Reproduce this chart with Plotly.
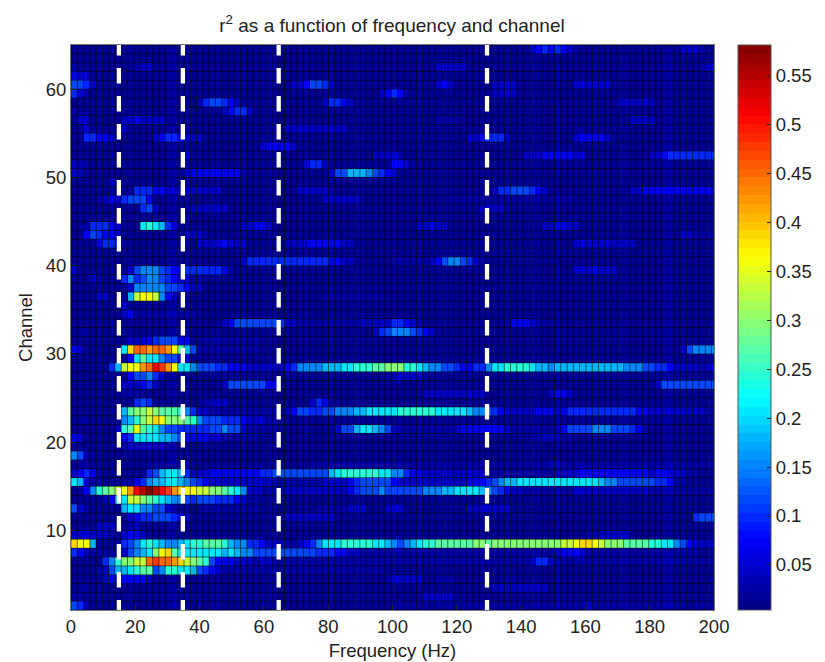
import plotly.graph_objects as go

LEVELS = {'0': .005, '1': .014, '2': .03, '3': .048, '4': .07, '5': .095, '6': .12, '7': .15,
          '8': .18, '9': .21, 'a': .24, 'b': .27, 'c': .30, 'd': .33, 'e': .36, 'f': .39,
          'g': .42, 'h': .45, 'i': .48, 'j': .51, 'k': .55, 'l': .58}

CH01 = "6521111111 1111112211 1122111111 1111111111 1111111111 1222212122 2222222222 2222222222 2232222222 2222222212 222"
CH02 = "2211111111 1111111111 1111111111 1111111111 1111111111 1111113333 3111111111 1111111111 1111111111 1111111111 111"
CH03 = "1111111111 1111111111 1111111111 1111111111 1111111111 1111111111 1111111333 3333331111 1111111111 1111111111 111"
CH04 = "1111134344 4431111111 1111111111 1111111111 1111111111 2333331122 2111111112 2111111111 1111111111 1111111111 111"
CH05 = "1111236889 abb67aa998 6543222222 2222222222 2222222222 1111111111 1111111111 1111111111 1111111111 1111111111 111"
CH06 = "1111157acc ddhihhgfdc ba64443332 3322222222 2222222222 2222222222 2222222222 2223553222 2222222222 2222222222 222"
CH07 = "5422222336 789cefb999 9999898776 6666666665 5544332222 2222222222 2222222222 2222222344 4322222222 2222222222 111"
CH08 = "fee8111256 79a987789a abbba87755 4333223457 999aaaaa99 876789aabb bbbbccbccc ccccccccdd effedcccbb bbaa997643 333"
CH09 = "3333332134 4311111111 1111111111 1111111111 1111111111 1111111111 1111111111 1111111111 1122333331 1111111111 111"
CH10 = "1111333112 3111111111 1111111111 1111111111 1111111111 1111111111 1111111111 1111111111 1111111111 1111111111 111"
CH11 = "1111111113 4556665431 1111111111 1112333333 3311111111 1111111111 1111111111 1111111111 1111111111 1111111115 666"
CH12 = "6311111189 9776631111 2222222222 1111111112 2222333111 3331111111 1113333333 1111111111 1111111111 1111111111 111"
CH13 = "111113489d dcba987765 6665554322 1111111111 1111111111 1111111111 1111111111 1111111111 1111111111 1111111111 111"
CH14 = "1247abcdeg jklkjigfee ddccba9733 2223333333 3333456667 6666667778 8999987654 3322222222 3333333333 3322222222 222"
CH15 = "9832211122 4578899876 5433333333 3322222222 3333456666 6433333333 3333445678 8999999999 9999877666 6665542211 111"
CH16 = "3454211111 1156899853 3344444444 5566666666 689aaaaaa9 9775443333 3333332222 2222222233 3444444444 4434433322 111"
CH17 = "1111111111 1122222222 1111111111 1111111122 2222222222 2222222222 2222222222 2222223322 2222222222 2222222222 222"
CH18 = "7622111111 1111111111 1111111111 1111111111 1111111111 1111111111 1111111111 1111111111 1111111111 1111111111 111"
CH19 = "1111111123 3333321111 1111111111 1111111111 1111111111 1111111111 1111111111 1111111111 1111111111 1111111111 111"
CH20 = "4311111145 9999887644 4433222222 1111111111 1111111111 1111111111 1111111111 1112233222 1111111111 1111111111 111"
CH21 = "11111113ab eba9766555 5566766322 2222111211 1136689987 6322222222 2344444443 2222222246 6667776665 4211111111 111"
CH22 = "1111111178 acdfecccba 7666555433 3222111111 1111111111 1111111111 1111111111 1111111111 1111111111 1111111111 111"
CH23 = "111111118b ccdcbbba75 3322222222 2222346655 6677788999 99aaaaaa99 9998776543 3333444345 5555555555 4433333333 322"
CH24 = "1111111111 5651111111 2233311111 1111111135 4111111111 1111111111 1111111111 1111111111 1111111111 1111111111 111"
CH25 = "1111111122 2111111111 1111111111 1111111111 1111111111 1111113333 3333331111 1111113443 1111111111 1111111111 111"
CH26 = "1111111133 3453111111 1111366666 6441111111 1111111111 1111111111 1111111111 1111111111 1111111111 1113666666 666"
CH27 = "1111111114 6675311111 1111111111 1111111111 1111111111 2233332111 1111111111 1111111111 1111111111 1111111111 111"
CH28 = "11111158de eghjige997 6665544433 3333457777 88899aaabb cccaa98776 654455799a aaa9887888 8888888877 7665543333 234"
CH29 = "1111111114 9b99766431 1111111111 1111111111 1111111111 1111111111 1111111111 1111111111 1111111111 1111111111 111"
CH30 = "431111119f hhghhgeb86 2222222222 1111111111 1111111111 1111111111 1111111111 1111111111 1111111111 1111111367 777"
CH31 = "1111111113 3345666442 2222222222 1111111111 1111111111 1111111111 1111111111 1111111111 1111111111 1111111111 111"
CH32 = "1111111111 1111111111 1111111111 1111111111 1111111135 6777654311 1111111111 1111111111 1111111111 1111111111 111"
CH33 = "1111111111 1111111111 1111346666 6665332222 2222223333 3554321111 1111111111 4443222111 1111111111 1111111111 111"
CH34 = "1111111134 2222222222 1111111111 1111111111 1111111111 1111111111 1111111111 1111111111 1111111111 1111111111 111"
CH35 = "1111111131 1111111111 1111111111 1111111111 1111111111 1111111111 1111111111 1111111111 1111111111 1111111111 111"
CH36 = "1111331118 deed742111 1111111111 1111111111 2222222222 1111111111 1111111111 1111111111 1111111111 1111111111 111"
CH37 = "1111111113 7777766543 3111111111 1111111111 1111111111 1111111111 1111111111 1111111111 1111111111 1111111111 111"
CH38 = "1113211157 5677654332 2111111111 1111111111 1111111111 1111111111 1111111111 1111111111 1111111111 1111111111 111"
CH39 = "3111111113 6777654455 5555421111 1111111111 1111111111 1111111111 1111111111 1111111111 3334333111 1111111111 111"
CH40 = "1111111111 1111111111 1111111355 5555555555 5443311111 1222222346 7765321111 1111111111 1111111111 1111111111 111"
CH41 = "1111111111 1111111111 1111111111 1111111111 1111111111 1111111111 1111111111 1111111111 1111111111 1111111111 111"
CH42 = "1111455421 1111111111 3333433311 1111333344 4443311111 1111111111 1111111111 1111111111 3333333333 1111111111 111"
CH43 = "1146544311 1111111133 3211111111 1111111111 1111111111 1111111111 1111111111 1111111111 1111111111 1111111332 222"
CH44 = "1115554311 19a9853111 1111111334 4311111111 1111111111 1111133433 1111111111 1111133443 3111111111 1111111111 111"
CH45 = "1111111111 1111111111 1111111111 1111111111 1111111111 1111111111 1111111111 1111111111 1111111111 1111111111 111"
CH46 = "1111111111 1563111113 3333311111 1111111111 1111111111 1111111111 1111133331 1111111111 1111111111 1111111111 111"
CH47 = "1111234356 6641111111 1111111111 1111111111 3333331111 1111111111 2222222222 2222222222 1111111111 1111111111 111"
CH48 = "1111111111 5554433333 3333111111 1111113333 3211111111 1111111111 1111111355 6665431111 1111111113 3444444444 443"
CH49 = "1111113111 1111111111 1111111111 1111111111 1111111111 1111111111 1111111111 1111111111 1111111111 1111111111 111"
CH50 = "3311111111 1111111134 4444444211 1111111111 1366888765 4311111111 1111111111 1111111111 1111111111 1111111111 111"
CH51 = "3211111111 1111111111 1111111111 1111111355 3111111111 1443211111 1111111111 1111111111 1111111111 1111111111 111"
CH52 = "1111111111 1111111131 1111111111 1111111111 1111111133 3321111111 1111111111 1133344444 3311111111 1133455555 555"
CH53 = "1111111111 1111111111 1111111111 3444431111 1111111111 1111111111 1111111111 1111111111 1111111111 1111111111 111"
CH54 = "1155443111 1113455433 3111111111 1111111111 1111111111 1111111111 1113345553 1111111111 3444431111 1111111111 111"
CH55 = "1131111131 1111111111 1111111111 1111333333 3333111111 1111111111 1111111111 1111111111 1111111111 1111111111 111"
CH56 = "1331111133 4333311111 1111111111 1111111111 1111111111 1111111122 2211111111 1111111111 1111111113 3331111111 111"
CH57 = "2111111111 1111111111 1111345531 1111111111 1111111111 1111111111 1111111111 1111111111 1111111111 1111111111 111"
CH58 = "1111111111 1111111111 3566543111 1111111111 3554311111 1111111111 1111111111 1111111111 1111111333 3331111111 111"
CH59 = "5311111111 1111111111 1111111111 1111111111 1111111113 4542111111 1111111333 3111111111 1111111111 1111111111 111"
CH60 = "6653111111 1111111111 1111111111 1111133466 5311111111 1111111134 3111111333 3111111111 3333331111 1111111111 111"
CH61 = "4331111111 1111111111 1111111111 1111111111 1111111111 1111111111 1111111111 1111111111 1111111111 1111111111 111"
CH62 = "2111111111 2331111111 1111111111 1111111111 1111111111 1111111133 3331111111 1111111111 1111111111 1111111111 234"
CH63 = "1111111111 1111111111 1111111111 1111111111 1111111111 1111111111 1111111111 1111111111 1111111111 1111111111 111"
CH64 = "1111111111 1111111111 1111111111 1111111111 1111111111 1111111111 1111111111 1113454543 2111111111 1111111333 211"

ROWS = [CH01, CH02, CH03, CH04, CH05, CH06, CH07, CH08, CH09, CH10, CH11, CH12, CH13, CH14, CH15, CH16,
        CH17, CH18, CH19, CH20, CH21, CH22, CH23, CH24, CH25, CH26, CH27, CH28, CH29, CH30, CH31, CH32,
        CH33, CH34, CH35, CH36, CH37, CH38, CH39, CH40, CH41, CH42, CH43, CH44, CH45, CH46, CH47, CH48,
        CH49, CH50, CH51, CH52, CH53, CH54, CH55, CH56, CH57, CH58, CH59, CH60, CH61, CH62, CH63, CH64]

N_COLS = 103
FREQ_STEP = 500 / 256
FREQ_EDGES = [i * FREQ_STEP for i in range(N_COLS + 1)]
CHANNEL_EDGES = list(range(1, 66))
BAND_EDGES = [14.9, 34.8, 64.6, 129.4]
X_TICKS = [0, 20, 40, 60, 80, 100, 120, 140, 160, 180, 200]
Y_TICKS = [10, 20, 30, 40, 50, 60]
CBAR_TICKS = [.05, .1, .15, .2, .25, .3, .35, .4, .45, .5, .55]
CBAR_LABELS = ["0.05", "0.1", "0.15", "0.2", "0.25", "0.3", "0.35", "0.4", "0.45", "0.5", "0.55"]
ZMIN, ZMAX = 0.004, 0.581

def to_row(s):
    s = s.replace(" ", "")
    s = (s + "1" * N_COLS)[:N_COLS]
    return [LEVELS[c] for c in s]

Z = [to_row(r) for r in ROWS]

def jet(t):
    def ch(c):
        return max(0.0, min(1.0, 1.5 - abs(4 * t - c)))
    return "rgb(%d,%d,%d)" % (round(255 * ch(3)), round(255 * ch(2)), round(255 * ch(1)))

colorscale = []
for i in range(64):
    col = jet((i + 0.5) / 64)
    colorscale.append([i / 64, col])
    colorscale.append([(i + 1) / 64, col])

FONT = "Liberation Sans, Arial, sans-serif"
TEXT = "#222222"
FS = 18.5
fig = go.Figure()
fig.add_trace(go.Heatmap(
    z=Z, x=FREQ_EDGES, y=CHANNEL_EDGES, zmin=ZMIN, zmax=ZMAX, colorscale=colorscale,
    hoverinfo="skip",
    colorbar=dict(x=(738 - 71) / 643, xanchor="left", xref="paper", y=0.5, yanchor="middle", len=1,
                  thickness=33, thicknessmode="pixels", xpad=0, ypad=0,
                  outlinewidth=1, outlinecolor="#555555",
                  tickmode="array", tickvals=CBAR_TICKS, ticktext=CBAR_LABELS,
                  ticks="inside", ticklen=4, tickcolor=TEXT,
                  tickfont=dict(family=FONT, size=FS, color=TEXT)),
))

grid_x, grid_y = [], []
for e in FREQ_EDGES:
    if e <= 200:
        grid_x += [e, e, None]
        grid_y += [1, 65, None]
for e in CHANNEL_EDGES:
    grid_x += [0, 200, None]
    grid_y += [e, e, None]
fig.add_trace(go.Scatter(x=grid_x, y=grid_y, mode="lines", hoverinfo="skip", showlegend=False,
                         line=dict(color="rgba(0,0,0,0.55)", width=1)))

for b in BAND_EDGES:
    fig.add_trace(go.Scatter(
        x=[b, b], y=[0.38, 65], mode="lines", cliponaxis=False, hoverinfo="skip", showlegend=False,
        line=dict(color="white", width=4.3, dash="15.5px,12.5px"),
    ))

fig.update_layout(
    width=817, height=654, autosize=False,
    margin=dict(l=63, r=111, t=37, b=52, pad=0, autoexpand=False),
    paper_bgcolor="white", plot_bgcolor="#00003c",
    showlegend=False,
    font=dict(family=FONT, size=FS, color=TEXT),
    title=dict(text="r<sup>2</sup> as a function of frequency and channel",
               x=384 / 817, xanchor="center", xref="container", y=1 - 17 / 654, yanchor="middle",
               font=dict(family=FONT, size=19, color=TEXT)),
    xaxis=dict(range=[0, 200], tickmode="array", tickvals=X_TICKS, ticks="inside", ticklen=5,
               tickcolor=TEXT, showgrid=False, zeroline=False, showline=True, linecolor="#777777",
               mirror=True, tickfont=dict(size=FS),
               title=dict(text="Frequency (Hz)", standoff=7, font=dict(size=FS))),
    yaxis=dict(range=[1, 65], tickmode="array", tickvals=Y_TICKS, ticks="inside", ticklen=5,
               tickcolor=TEXT, showgrid=False, zeroline=False, showline=True, linecolor="#777777",
               mirror=True, tickfont=dict(size=FS),
               title=dict(text="Channel", standoff=8, font=dict(size=FS))),
)
fig.write_html("out.html")
